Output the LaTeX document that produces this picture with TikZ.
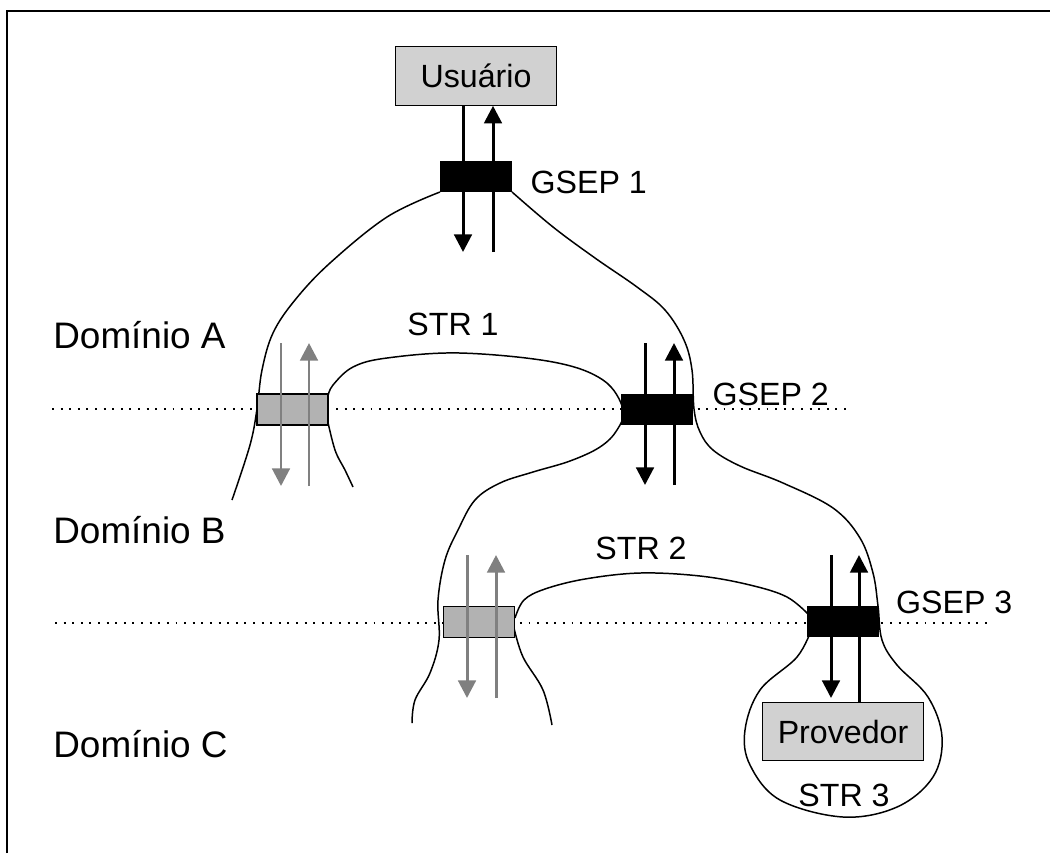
\documentclass[tikz,border=0pt]{standalone}
\usepackage{fontspec}
\setmainfont{Liberation Sans}
\usetikzlibrary{arrows.meta,positioning}
\definecolor{boxgray}{gray}{0.82}
\definecolor{strgray}{gray}{0.70}
\definecolor{arrgray}{gray}{0.50}
\tikzset{
  endbox/.style={draw, fill=boxgray, line width=0.6pt, minimum width=3.22cm, minimum height=1.17cm, inner sep=0pt, font=\fontsize{18.3}{20}\selectfont},
  gsepbox/.style={fill=black, minimum width=1.44cm, minimum height=0.62cm, inner sep=0pt},
  strbox/.style={draw, fill=strgray, line width=0.6pt, minimum width=1.42cm, minimum height=0.62cm, inner sep=0pt},
  lbl/.style={inner sep=0pt, font=\fontsize{18.3}{20}\selectfont},
  dom/.style={inner sep=0pt, anchor=west, font=\fontsize{21}{24}\selectfont},
  bound/.style={line width=0.85pt},
  dotline/.style={line width=1.1pt, dash pattern=on 1.1pt off 3.8pt},
  flow/.style={line width=1.7pt, -{Triangle[length=10pt,width=10pt]}},
  flowgray/.style={flow, draw=arrgray},
}
\begin{document}
\begin{tikzpicture}[x=0.02cm,y=-0.02cm]
        \useasboundingbox (0,0) rectangle (1050,853);
        \draw[line width=1.1pt] (7,853) |- (1050,11);
        % domain borders
        \draw[dotline] (52,409) -- (847,409);
        \draw[dotline] (55,623) -- (992,623);
        % boundaries
        \draw[bound] plot[smooth,tension=0.6] coordinates {(440,192) (387,217) (330,263) (295,300) (273,333) (262,370) (257,409) (250,445) (232,500)};
        \draw[bound] plot[smooth,tension=0.6] coordinates {(512,192) (553,227) (595,258) (637,287) (665,310) (684,340) (692,370) (694,409) (700,432) (713,450) (740,466) (783,483) (833,508) (860,538) (873,573) (878,606) (882,640) (897,665) (928,697) (942,737) (933,777) (897,807) (843,817) (780,800) (750,765) (745,730) (760,690) (797,657) (812,628)};
        \draw[bound] plot[smooth,tension=0.6] coordinates {(328,396) (333,385) (353,367) (387,358) (460,353) (553,362) (603,380) (623,409) (617,430) (600,447) (570,461) (533,472) (500,483) (475,500) (458,530) (445,560) (438,600) (439,640) (430,673) (415,700) (412,723)};
        \draw[bound] plot[smooth,tension=0.6] coordinates {(327,418) (335,450) (345,470) (353,487)};
        \draw[bound] plot[smooth,tension=0.6] coordinates {(515,618) (524,600) (545,589) (585,579) (640,573) (700,576) (750,585) (787,597) (810,616)};
        \draw[bound] plot[smooth,tension=0.6] coordinates {(514,628) (523,657) (543,690) (552,725)};
        % boxes
        \node[endbox] (usr) at (476,76) {Usuário};
        \node[gsepbox] (g1) at (476,176) {};
        \node[strbox] (s1) at (292.5,409.5) {};
        \node[gsepbox] (g2) at (657,409.5) {};
        \node[strbox] (s2) at (479,622) {};
        \node[gsepbox] (g3) at (842.5,621.5) {};
        \node[endbox] (prov) at (843,731.5) {Provedor};
        % flows
        \coordinate (g1d) at (463,252);
        \coordinate (g1u) at (493,252);
        \draw[flow] (usr.south -| g1d) -- (g1d);
        \draw[flow] (g1u) -- (usr.south -| g1u);
        \coordinate (s1dt) at (281,343);
        \coordinate (s1db) at (281,486);
        \coordinate (s1ub) at (309,486);
        \coordinate (s1ut) at (309,343);
        \draw[flowgray] (s1dt) -- (s1db);
        \draw[flowgray] (s1ub) -- (s1ut);
        \coordinate (g2dt) at (645,343);
        \coordinate (g2db) at (645,485);
        \coordinate (g2ub) at (674,485);
        \coordinate (g2ut) at (674,343);
        \draw[flow] (g2dt) -- (g2db);
        \draw[flow] (g2ub) -- (g2ut);
        \coordinate (s2dt) at (467,555);
        \coordinate (s2db) at (467,698);
        \coordinate (s2ub) at (496,698);
        \coordinate (s2ut) at (496,555);
        \draw[flowgray] (s2dt) -- (s2db);
        \draw[flowgray] (s2ub) -- (s2ut);
        \coordinate (g3dt) at (831,555);
        \coordinate (g3db) at (831,698);
        \coordinate (g3ut) at (859,555);
        \draw[flow] (g3dt) -- (g3db);
        \draw[flow] (prov.north -| g3ut) -- (g3ut);
        % labels
        \node[lbl, anchor=west, right=0.36cm of g1, yshift=-0.12cm] (g1lbl) {GSEP 1};
        \node[lbl, anchor=west, right=0.38cm of g2, yshift=0.3cm] (g2lbl) {GSEP 2};
        \node[lbl, anchor=west, right=0.34cm of g3, yshift=0.38cm] (g3lbl) {GSEP 3};
        \node[lbl] (str1) at (453,324) {STR 1};
        \node[lbl] (str2) at (641,548) {STR 2};
        \node[lbl] (str3) at (844,795) {STR 3};
        \node[dom] (domA) at (53,335) {Domínio A};
        \node[dom] (domB) at (53,530) {Domínio B};
        \node[dom] (domC) at (53,744) {Domínio C};
\end{tikzpicture}
\end{document}
